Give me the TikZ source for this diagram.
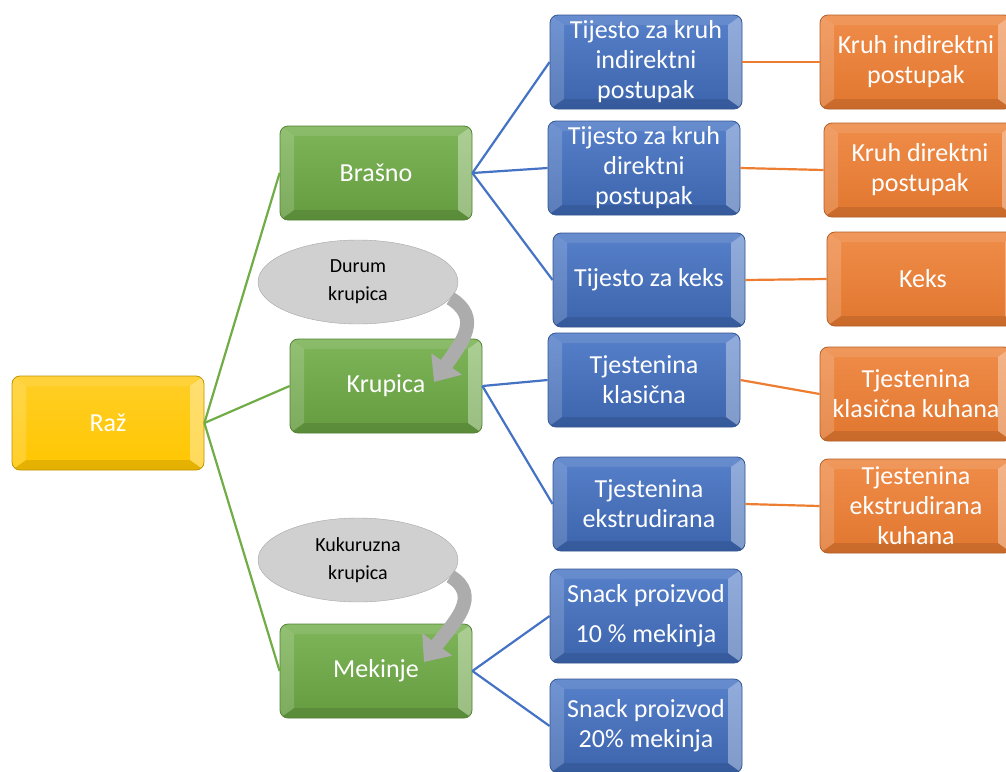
\documentclass[tikz,border=0pt]{standalone}
\usepackage{fontspec}
\setmainfont{Carlito}
\usetikzlibrary{arrows.meta, shapes.geometric, calc}

\definecolor{RazYellow}{RGB}{255, 198, 0}
\definecolor{LeafGreen}{RGB}{112, 173, 71}
\definecolor{OfficeBlue}{RGB}{68, 114, 196}
\definecolor{OfficeOrange}{RGB}{237, 125, 49}
\definecolor{SoftGrey}{RGB}{208, 208, 208}

\begin{document}
\begin{tikzpicture}[
    x=1pt, y=-1pt,
    every node/.style={align=center},
    bevel/.style={path picture={
        \path (path picture bounding box.south west) coordinate (pa)
              (path picture bounding box.north east) coordinate (pb);
        \fill[white, opacity=.10, sharp corners] (pa|-pb) -- ++(14pt,-10pt) -- ($(pb)+(-14pt,-10pt)$) -- (pb) -- cycle;
        \fill[black, opacity=.10, sharp corners] (pa) -- ++(14pt,10pt) -- ($(pb|-pa)+(-14pt,10pt)$) -- (pb|-pa) -- cycle;
        \fill[white, opacity=.16, sharp corners] (pa) -- ++(14pt,10pt) -- ($(pa|-pb)+(14pt,-10pt)$) -- (pa|-pb) -- cycle;
        \fill[white, opacity=.35, sharp corners] (pb|-pa) -- ++(-14pt,10pt) -- ($(pb)+(-14pt,-10pt)$) -- (pb) -- cycle;
    }},
    gem/.style={rounded corners=8pt, minimum width=192pt, minimum height=94pt,
                inner sep=2pt, text=white, font=\fontsize{26}{30}\selectfont,
                line width=0.8pt, bevel},
    rootbox/.style={gem, draw=RazYellow!75!black, top color=RazYellow!85!white, bottom color=RazYellow},
    grainbox/.style={gem, draw=LeafGreen!75!black, top color=LeafGreen!90!white, bottom color=LeafGreen!90!black},
    doughbox/.style={gem, draw=OfficeBlue!75!black, top color=OfficeBlue!90!white, bottom color=OfficeBlue!88!black},
    productbox/.style={gem, draw=OfficeOrange!75!black, top color=OfficeOrange!88!white, bottom color=OfficeOrange!95!black},
    addbubble/.style={ellipse, draw=gray!70, fill=SoftGrey, minimum width=200pt, minimum height=84pt,
                      inner sep=0pt, text=black, font=\fontsize{20}{28}\selectfont},
    greenline/.style={draw=LeafGreen, line width=2.2pt},
    blueline/.style={draw=OfficeBlue, line width=2.2pt},
    orangeline/.style={draw=OfficeOrange, line width=2.2pt},
    greyarrow/.style={draw=gray!65, line width=14pt, -{Triangle[width=36pt, length=22pt]}}
]
\useasboundingbox (0,0) rectangle (1006,771);

% ishodište
\node[rootbox] (raz) at (108,423) {Raž};

% frakcije
\node[grainbox] (brasno) at (376,173) {Brašno};
\node[grainbox] (krupica) at (386,386) {Krupica};
\node[grainbox] (mekinje) at (376,671) {Mekinje};

% dodaci
\node[addbubble] (durum) at (358,282) {Durum\\krupica};
\node[addbubble] (kukuruz) at (358,560) {Kukuruzna\\krupica};

% tijesta
\node[doughbox] (tind) at (646,62) {Tijesto za kruh\\indirektni\\postupak};
\node[doughbox] (tdir) at (644,168) {Tijesto za kruh\\direktni\\postupak};
\node[doughbox] (tkeks) at (649,280) {Tijesto za keks};
\node[doughbox] (tklas) at (644,380) {Tjestenina\\klasična};
\node[doughbox] (tekst) at (649,504) {Tjestenina\\ekstrudirana};
\node[doughbox] (snack10) at (646,616) {Snack proizvod\\[10pt]10 \% mekinja};
\node[doughbox] (snack20) at (646,726) {Snack proizvod\\20\% mekinja};

% proizvodi
\node[productbox] (kind) at (916,62) {Kruh indirektni\\postupak};
\node[productbox] (kdir) at (920,170) {Kruh direktni\\postupak};
\node[productbox] (keks) at (923,279) {Keks};
\node[productbox] (kklas) at (916,394) {Tjestenina\\klasična kuhana};
\node[productbox] (kekst) at (916,506) {Tjestenina\\ekstrudirana\\kuhana};

\draw[greenline] (raz.east) -- (brasno.west);
\draw[greenline] (raz.east) -- (krupica.west);
\draw[greenline] (raz.east) -- (mekinje.west);

\draw[blueline] (brasno.east) -- (tind.west);
\draw[blueline] (brasno.east) -- (tdir.west);
\draw[blueline] (brasno.east) -- (tkeks.west);
\draw[blueline] (krupica.east) -- (tklas.west);
\draw[blueline] (krupica.east) -- (tekst.west);
\draw[blueline] (mekinje.east) -- (snack10.west);
\draw[blueline] (mekinje.east) -- (snack20.west);

\draw[orangeline] (tind.east) -- (kind.west);
\draw[orangeline] (tdir.east) -- (kdir.west);
\draw[orangeline] (tkeks.east) -- (keks.west);
\draw[orangeline] (tklas.east) -- (kklas.west);
\draw[orangeline] (tekst.east) -- (kekst.west);

\coordinate (dtip) at (434,382);
\coordinate (ktip) at (424,662);
\draw[greyarrow] (durum.-10) .. controls (482,318) and (462,342) .. (dtip);
\draw[greyarrow] (kukuruz.-10) .. controls (482,596) and (454,622) .. (ktip);
\end{tikzpicture}
\end{document}
